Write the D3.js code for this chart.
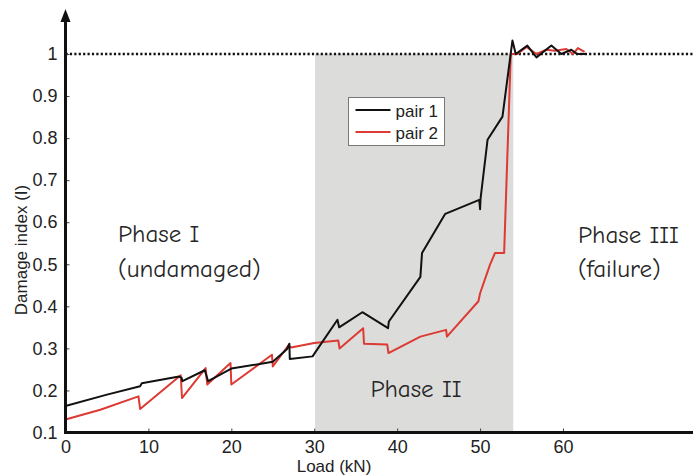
<!DOCTYPE html>
<html lang="en">
<head>
    <meta charset="UTF-8">
    <title>Damage index</title>
    <script src="https://d3js.org/d3.v7.min.js"></script>
    <style>
        body { margin: 0; background: #fff; }
        text { font-family: 'Liberation Sans', Arial, sans-serif; fill: #222; }
        .phase { font-family: 'Comic Sans MS', 'Comic Neue', 'DejaVu Sans', sans-serif; font-size: 25px; fill: #262626; }
    </style>
</head>
<body>
<script>
    const width  = 693;
    const height = 476;

    // load (kN), damage index
    const pair1 = [[0,0.163],[5,0.19],[9,0.21],[9.2,0.217],[13.7,0.233],[14,0.23],[14.1,0.222],
        [16.8,0.248],[17.2,0.222],[20,0.252],[25,0.268],[26.7,0.298],[27,0.311],[27.05,0.275],
        [29.8,0.281],[30.1,0.29],[32.8,0.368],[33,0.35],[35.8,0.386],[38.9,0.348],[39,0.364],
        [42.8,0.47],[43,0.527],[45.8,0.62],[49.9,0.653],[50,0.631],[50.05,0.655],[50.9,0.796],
        [52.7,0.851],[53.9,1.032],[54.3,1.0],[55.7,1.02],[56.8,0.992],[58.6,1.02],[59.8,1.0],
        [61,1.01],[61.7,1.0],[62.9,1.0]];
    const pair2 = [[0,0.131],[4.2,0.154],[8.8,0.186],[9,0.156],[13.9,0.236],[14.05,0.182],
        [16.9,0.253],[17.1,0.214],[19.9,0.265],[20,0.214],[24.9,0.285],[25,0.257],[26.9,0.307],
        [27.2,0.302],[30,0.313],[32.9,0.319],[33.05,0.30],[35.9,0.348],[36,0.311],[38.8,0.309],
        [38.95,0.289],[42.8,0.328],[45.9,0.344],[46,0.328],[49.8,0.412],[50,0.431],[51.2,0.499],
        [51.8,0.527],[52.9,0.527],[53.7,1.0],[54.5,1.0],[55.6,1.017],[56.8,1.0],[58,1.01],
        [59,1.008],[60.4,1.012],[61.2,1.0],[61.8,1.014],[62.6,1.005]];

    const xTicks = [0, 10, 20, 30, 40, 50, 60];
    const yTicks = [0.1, 0.2, 0.3, 0.4, 0.5, 0.6, 0.7, 0.8, 0.9, 1];
    const phase2 = [30.1, 54];
    const series = [
        {name: "pair 1", data: pair1, color: "#111"},
        {name: "pair 2", data: pair2, color: "#dc3a33"}
    ];

    const x = d3.scaleLinear().domain([0, 60]).range([65.5, 563]);
    const y = d3.scaleLinear().domain([0.1, 1]).range([432.5, 54]);

    const svg = d3.select("body").append("svg").attr("width", width).attr("height", height);

    // phase II band
    svg.append("rect")
        .attr("x", x(phase2[0])).attr("y", y(1))
        .attr("width", x(phase2[1]) - x(phase2[0]))
        .attr("height", y(0.1) - y(1))
        .attr("fill", "#dcdcdb");

    // failure threshold
    svg.append("line")
        .attr("x1", x(0)).attr("x2", width)
        .attr("y1", y(1)).attr("y2", y(1))
        .attr("stroke", "#111").attr("stroke-width", 2.5)
        .attr("stroke-dasharray", "2.2,2.2");

    const line = d3.line().x(d => x(d[0])).y(d => y(d[1]));

    series.slice().reverse().forEach(s => {
        svg.append("path")
            .attr("d", line(s.data))
            .attr("fill", "none")
            .attr("stroke", s.color)
            .attr("stroke-width", 2)
            .attr("stroke-linejoin", "round");
    });

    // axes
    const xAxis = d3.axisBottom(x).tickValues(xTicks).tickSize(-4).tickPadding(8);
    const gx = svg.append("g").attr("transform", "translate(0," + y(0.1) + ")").call(xAxis);
    gx.select(".domain").remove();
    gx.selectAll("text").attr("font-size", 18).attr("font-family", "'Liberation Sans', Arial, sans-serif").attr("fill", "#222");
    gx.selectAll("line").attr("stroke", "#444");

    const yAxis = d3.axisLeft(y).tickValues(yTicks).tickSize(-4).tickPadding(8).tickFormat(d3.format("~g"));
    const gy = svg.append("g").attr("transform", "translate(" + x(0) + ",0)").call(yAxis);
    gy.select(".domain").remove();
    gy.selectAll("text").attr("font-size", 18).attr("font-family", "'Liberation Sans', Arial, sans-serif").attr("fill", "#222");
    gy.selectAll("line").attr("stroke", "#444");

    svg.append("line")
        .attr("x1", x(0) - 1.5).attr("x2", width)
        .attr("y1", y(0.1)).attr("y2", y(0.1))
        .attr("stroke", "#111").attr("stroke-width", 3);
    svg.append("line")
        .attr("x1", x(0)).attr("x2", x(0))
        .attr("y1", y(0.1) + 1.5).attr("y2", 18)
        .attr("stroke", "#111").attr("stroke-width", 3);
    svg.append("path")
        .attr("d", "M" + (x(0) - 5) + ",22L" + (x(0) + 5) + ",22L" + x(0) + ",9Z")
        .attr("fill", "#111");

    // axis titles
    svg.append("text")
        .attr("x", 334).attr("y", 472)
        .attr("text-anchor", "middle").attr("font-size", 17)
        .text("Load (kN)");
    svg.append("text")
        .attr("transform", "translate(27,250) rotate(-90)")
        .attr("text-anchor", "middle").attr("font-size", 17)
        .text("Damage index (I)");

    // phase labels
    const labels = [
        {t: "Phase I", x: 118, y: 242, a: "start"},
        {t: "(undamaged)", x: 118, y: 277, a: "start"},
        {t: "Phase II", x: 416, y: 397, a: "middle"},
        {t: "Phase III", x: 578, y: 243, a: "start"},
        {t: "(failure)", x: 578, y: 277, a: "start"}
    ];
    svg.selectAll(".phase").data(labels).enter().append("text")
        .attr("class", "phase")
        .attr("x", d => d.x).attr("y", d => d.y)
        .attr("text-anchor", d => d.a)
        .text(d => d.t);

    // legend
    const lg = svg.append("g").attr("transform", "translate(348.5,97.5)");
    lg.append("rect").attr("width", 96).attr("height", 48)
        .attr("fill", "#fff").attr("stroke", "#777").attr("stroke-width", 1);
    series.forEach((s, i) => {
        lg.append("line")
            .attr("x1", 7).attr("x2", 42)
            .attr("y1", 12.5 + i * 22).attr("y2", 12.5 + i * 22)
            .attr("stroke", s.color).attr("stroke-width", 2);
        lg.append("text")
            .attr("x", 47).attr("y", 19 + i * 22)
            .attr("font-size", 17)
            .text(s.name);
    });
</script>
</body>
</html>
